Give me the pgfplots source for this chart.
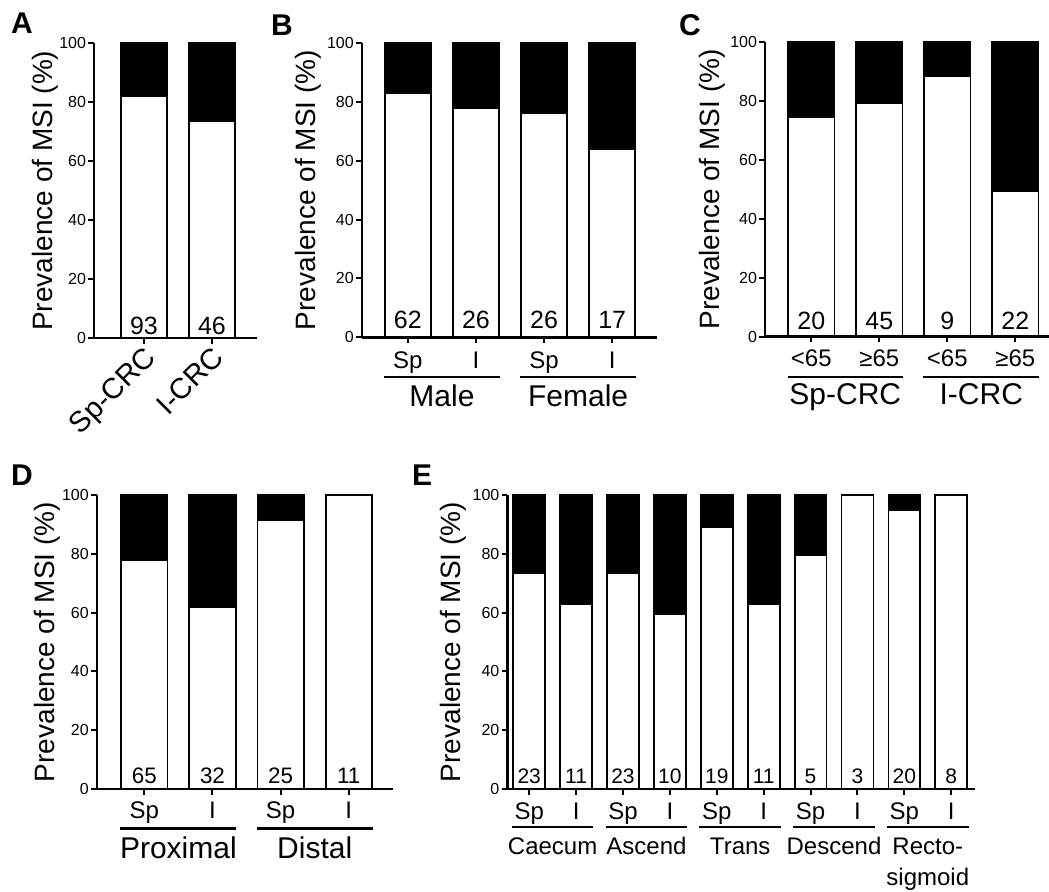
\documentclass[border=0pt]{standalone}
\usepackage{fontspec}
\setmainfont{Liberation Sans}
\usepackage{pgfplots}
\pgfplotsset{compat=1.18}
\newcommand{\fs}[1]{\fontsize{#1}{#1}\selectfont}

\pgfplotsset{
  msi/.style={
    axis on top,
    scale only axis, height=147.3pt, anchor=south west,
    ymin=0, ymax=100, ytick={0,20,40,60,80,100},
    axis lines*=left, ybar stacked, bar width=0.68,
    tick align=outside, major tick length=2.8pt,
    tick style={black, line width=1pt},
    axis line style={line width=1.2pt},
    /pgf/number format/assume math mode=true,
    yticklabel style={font=\fs{8}, inner sep=1pt},
    ylabel={Prevalence of MSI (\%)},
    ylabel style={font=\fs{14}, anchor=base},
    clip=false,
  },
  wbar/.style={fill=white, draw=black, line width=0.9pt},
  bbar/.style={fill=black, draw=black, line width=0.9pt},
}
\tikzset{grp/.style={line width=1.2pt}}

\begin{document}
\begin{tikzpicture}
\path[use as bounding box] (0,0) rectangle (524.5pt,446pt);

% panel letters
\node[font=\fs{15}\bfseries] at (11pt,434.5pt) {A};
\node[font=\fs{15}\bfseries] at (141pt,433.5pt) {B};
\node[font=\fs{15}\bfseries] at (345pt,433.5pt) {C};
\node[font=\fs{15}\bfseries] at (11pt,208.5pt) {D};
\node[font=\fs{15}\bfseries] at (211pt,208.5pt) {E};

% A
\begin{axis}[msi, at={(47pt,277pt)}, width=81.5pt,
  xmin=0.265, xmax=2.662, xtick={1,2}, xticklabels={Sp-CRC,I-CRC},
  xticklabel style={font=\fs{14.5}, xshift=-0.5pt, yshift=4.3pt, rotate=45, anchor=north east},
  ylabel style={at={(axis description cs:-0.253,0.5)}}]
\addplot[wbar] coordinates {(1,82) (2,73.5)};
\addplot[bbar] coordinates {(1,18) (2,26.5)};
\coordinate (A1) at (axis cs:1,1.25);
\coordinate (A2) at (axis cs:2,1.25);
\end{axis}
\node[font=\fs{12.5}, anchor=base] at (A1) {93};
\node[font=\fs{12.5}, anchor=base] at (A2) {46};

% B
\begin{axis}[msi, at={(180.85pt,277.3pt)}, width=147.5pt,
  xmin=0.322, xmax=4.653, xtick={1,2,3,4}, xticklabels={},
  ylabel style={at={(axis description cs:-0.158,0.5)}}]
\addplot[wbar] coordinates {(1,83) (2,77.8) (3,76.2) (4,64)};
\addplot[bbar] coordinates {(1,17) (2,22.2) (3,23.8) (4,36)};
\coordinate (B1) at (axis cs:1,3);
\coordinate (B2) at (axis cs:2,3);
\coordinate (B3) at (axis cs:3,3);
\coordinate (B4) at (axis cs:4,3);
\foreach \x/\l in {1/Sp,2/I,3/Sp,4/I}
  {\edef\tmp{\noexpand\node[font=\noexpand\fs{12}, anchor=base] at (axis cs:\x,-10.5) {\l};}\tmp}
\draw[grp] (axis cs:0.65,-13.4) -- (axis cs:2.35,-13.4);
\draw[grp] (axis cs:2.65,-13.4) -- (axis cs:4.35,-13.4);
\node[font=\fs{15}, anchor=base] at (axis cs:1.5,-23.6) {Male};
\node[font=\fs{15}, anchor=base] at (axis cs:3.5,-23.6) {Female};
\end{axis}
\foreach \c/\n in {B1/62,B2/26,B3/26,B4/17}
  \node[font=\fs{12.5}, anchor=base] at (\c) {\n};

% C
\begin{axis}[msi, at={(382.5pt,277.65pt)}, width=142pt,
  xmin=0.319, xmax=4.496, xtick={1,2,3,4}, xticklabels={},
  ylabel style={at={(axis description cs:-0.161,0.5)}}]
\addplot[wbar] coordinates {(1,74.4) (2,79.3) (3,88.3) (4,49.3)};
\addplot[bbar] coordinates {(1,25.6) (2,20.7) (3,11.7) (4,50.7)};
\coordinate (C1) at (axis cs:1,2.3);
\coordinate (C2) at (axis cs:2,2.3);
\coordinate (C3) at (axis cs:3,2.3);
\coordinate (C4) at (axis cs:4,2.3);
\node[font=\fs{12}, anchor=base] at (axis cs:1,-10) {<65};
\node[font=\fs{12}, anchor=base] at (axis cs:2,-10) {≥65};
\node[font=\fs{12}, anchor=base] at (axis cs:3,-10) {<65};
\node[font=\fs{12}, anchor=base] at (axis cs:4,-10) {≥65};
\draw[grp] (axis cs:0.65,-13.6) -- (axis cs:2.35,-13.6);
\draw[grp] (axis cs:2.65,-13.6) -- (axis cs:4.35,-13.6);
\node[font=\fs{15}, anchor=base] at (axis cs:1.5,-23.1) {Sp-CRC};
\node[font=\fs{15}, anchor=base] at (axis cs:3.5,-23.1) {I-CRC};
\end{axis}
\foreach \c/\n in {C1/20,C2/45,C3/9,C4/22}
  \node[font=\fs{12.5}, anchor=base] at (\c) {\n};

% D
\begin{axis}[msi, at={(48.35pt,51.35pt)}, width=148.15pt,
  xmin=0.302, xmax=4.648, xtick={1,2,3,4}, xticklabels={},
  ylabel style={at={(axis description cs:-0.141,0.5)}}]
\addplot[wbar] coordinates {(1,77.9) (2,61.8) (3,91.5) (4,100)};
\addplot[bbar] coordinates {(1,22.1) (2,38.2) (3,8.5) (4,0)};
\coordinate (D1) at (axis cs:1,2);
\coordinate (D2) at (axis cs:2,2);
\coordinate (D3) at (axis cs:3,2);
\coordinate (D4) at (axis cs:4,2);
\foreach \x/\l in {1/Sp,2/I,3/Sp,4/I}
  {\edef\tmp{\noexpand\node[font=\noexpand\fs{12}, anchor=base] at (axis cs:\x,-9.9) {\l};}\tmp}
\draw[grp] (axis cs:0.65,-13.25) -- (axis cs:2.35,-13.25);
\draw[grp] (axis cs:2.65,-13.25) -- (axis cs:4.35,-13.25);
\node[font=\fs{15}, anchor=base] at (axis cs:1.5,-23.5) {Proximal};
\node[font=\fs{15}, anchor=base] at (axis cs:3.5,-23.5) {Distal};
\end{axis}
\foreach \c/\n in {D1/65,D2/32,D3/25,D4/11}
  \node[font=\fs{11.2}, anchor=base] at (\c) {\n};

% E
\begin{axis}[msi, at={(253.65pt,51.35pt)}, width=233.85pt,
  xmin=0.533, xmax=10.507, xtick={1,...,10}, xticklabels={},
  ylabel style={at={(axis description cs:-0.101,0.5)}}]
\addplot[wbar] coordinates {(1,73.4) (2,63) (3,73.4) (4,59.5) (5,88.9)
  (6,63) (7,79.4) (8,100) (9,94.6) (10,100)};
\addplot[bbar] coordinates {(1,26.6) (2,37) (3,26.6) (4,40.5) (5,11.1)
  (6,37) (7,20.6) (8,0) (9,5.4) (10,0)};
\coordinate (E1) at (axis cs:1,2);
\coordinate (E2) at (axis cs:2,2);
\coordinate (E3) at (axis cs:3,2);
\coordinate (E4) at (axis cs:4,2);
\coordinate (E5) at (axis cs:5,2);
\coordinate (E6) at (axis cs:6,2);
\coordinate (E7) at (axis cs:7,2);
\coordinate (E8) at (axis cs:8,2);
\coordinate (E9) at (axis cs:9,2);
\coordinate (E10) at (axis cs:10,2);
\foreach \x/\l in {1/Sp,2/I,3/Sp,4/I,5/Sp,6/I,7/Sp,8/I,9/Sp,10/I}
  {\edef\tmp{\noexpand\node[font=\noexpand\fs{12}, anchor=base] at (axis cs:\x,-10.4) {\l};}\tmp}
\foreach \a/\b in {0.63/2.37,2.63/4.37,4.63/6.37,6.63/8.37,8.63/10.37}
  {\edef\tmp{\noexpand\draw[grp] (axis cs:\a,-12.7) -- (axis cs:\b,-12.7);}\tmp}
\node[font=\fs{12}, anchor=base] at (axis cs:1.5,-22.3) {Caecum};
\node[font=\fs{12}, anchor=base] at (axis cs:3.5,-22.3) {Ascend};
\node[font=\fs{12}, anchor=base] at (axis cs:5.5,-22.3) {Trans};
\node[font=\fs{12}, anchor=base] at (axis cs:7.5,-22.3) {Descend};
\node[font=\fs{12}, anchor=base] at (axis cs:9.5,-22.3) {Recto-};
\node[font=\fs{12}, anchor=base] at (axis cs:9.5,-32.5) {sigmoid};
\end{axis}
\foreach \c/\n in {E1/23,E2/11,E3/23,E4/10,E5/19,E6/11,E7/5,E8/3,E9/20,E10/8}
  \node[font=\fs{10.5}, anchor=base] at (\c) {\n};
\end{tikzpicture}
\end{document}
